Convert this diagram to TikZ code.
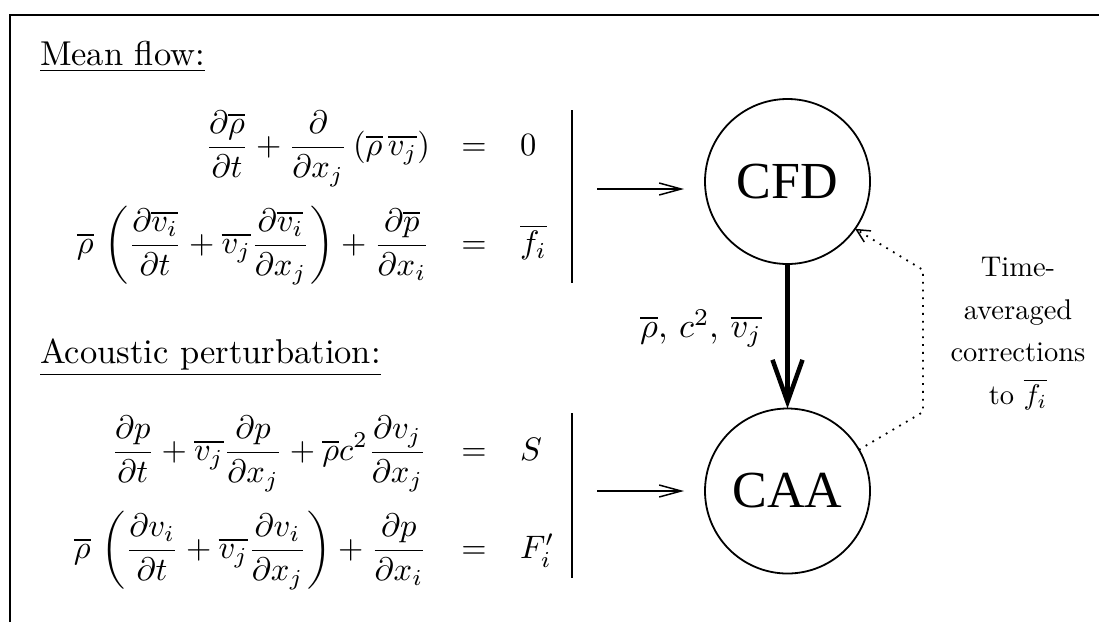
\documentclass[tikz,border=0pt]{standalone}
\usepackage{amsmath}
\usepackage{fontspec}
\newfontfamily\cfdfont{Liberation Serif}
\usetikzlibrary{arrows.meta}
\begin{document}
\begin{tikzpicture}[x=1pt,y=-1pt,
  every node/.style={inner sep=0pt, outer sep=0pt},
  big/.style={scale=3.45},
  mathsize/.style={scale=3.25},
  lhs/.style={mathsize, anchor=base east},
  eqsign/.style={mathsize, anchor=base},
  rhs/.style={mathsize, anchor=base west},
  header/.style={big, anchor=base west},
  solver/.style={circle, draw, line width=1.8pt, minimum size=165pt, font=\cfdfont\fontsize{52}{60}\selectfont},
  bar/.style={line width=1.8pt},
  feed/.style={line width=1.5pt, -{Straight Barb[length=22pt,width=12pt,line width=1.5pt]}},
  data/.style={line width=4.5pt, -{Straight Barb[length=42pt,width=30pt,line width=4.5pt]}},
  back/.style={line width=1.8pt, dash pattern=on 1.8pt off 6pt, -{Straight Barb[length=13pt,width=13pt,line width=1.5pt]}},
  note/.style={scale=2.85, align=center, font=\fontsize{10}{15}\selectfont}
]
\useasboundingbox (0,0) rectangle (1099,622);
% frame
\draw[line width=1.6pt] (10,622) -- (10,15) -- (1099,15);

% Mean flow
\node[header] (h1) at (40,65) {\underline{Mean flow:}};
\node[lhs] (l1) at (430,155.6) {$\displaystyle \frac{\partial\overline{\rho}}{\partial t}+\frac{\partial}{\partial x_j}\,(\overline{\rho}\,\overline{v_j})$};
\node[eqsign] (e1) at (474,155.6) {$=$};
\node[rhs] (r1) at (520,155.6) {$0$};
\node[lhs] (l2) at (430,253.6) {$\displaystyle \overline{\rho}\,\left(\frac{\partial\overline{v_i}}{\partial t}+\overline{v_j}\frac{\partial\overline{v_i}}{\partial x_j}\right)+\frac{\partial\overline{p}}{\partial x_i}$};
\node[eqsign] (e2) at (474,253.6) {$=$};
\node[rhs] (r2) at (520,253.6) {$\overline{f_i}$};
\draw[bar] (572,110) -- (572,283);

% Acoustic perturbation
\node[header] (h2) at (40,363) {\underline{Acoustic perturbation:}};
\node[lhs] (l3) at (427,460.6) {$\displaystyle \frac{\partial p}{\partial t}+\overline{v_j}\frac{\partial p}{\partial x_j}+\overline{\rho}c^2\frac{\partial v_j}{\partial x_j}$};
\node[eqsign] (e3) at (474,460.6) {$=$};
\node[rhs] (r3) at (520,460.6) {$S$};
\node[lhs] (l4) at (427,558.6) {$\displaystyle \overline{\rho}\,\left(\frac{\partial v_i}{\partial t}+\overline{v_j}\frac{\partial v_i}{\partial x_j}\right)+\frac{\partial p}{\partial x_i}$};
\node[eqsign] (e4) at (474,558.6) {$=$};
\node[rhs] (r4) at (520,558.6) {$F_i'$};
\draw[bar] (572,413) -- (572,578);

% solvers
\node[solver] (cfd) at (787.5,181.5) {CFD};
\node[solver] (caa) at (787.5,491) {CAA};

% connectors
\coordinate (a1) at (597,189);
\coordinate (a2) at (597,491);
\draw[feed, shorten >=21pt] (a1) -- (a1 -| cfd.west);
\draw[feed, shorten >=21pt] (a2) -- (a2 -| caa.west);
\draw[data] (cfd.south) -- (caa.north);
\node[big] (lab1) at (701,328.5) {$\overline{\rho}$, $c^2$, $\overline{v_j}$};

\coordinate (w1) at (923,412);
\coordinate (w2) at (923,270);
\draw[back] (caa.30) -- (w1) -- (w2) -- (cfd.-35);
\node[note, anchor=north] (lab2) at (1018,257) {Time-\\averaged\\corrections\\to $\overline{f_i}$};
\end{tikzpicture}
\end{document}
